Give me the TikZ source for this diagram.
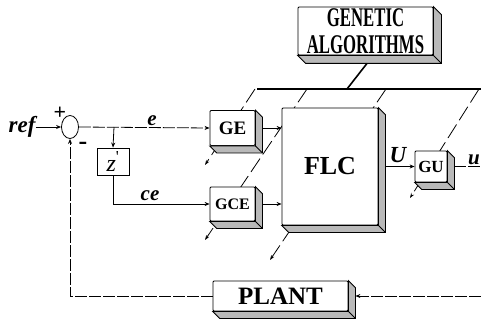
\documentclass[tikz,border=0pt]{standalone}
\usepackage{fontspec}
\setmainfont{Liberation Serif}
\usepackage{graphicx}
\usetikzlibrary{arrows.meta,shapes.geometric,calc}

\begin{document}
\begin{tikzpicture}[x=1pt, y=1pt, line width=0.8pt,
    >={Stealth[length=5pt,width=4pt]},
    every node/.style={inner sep=0pt},
    gainbox/.style={draw, fill=white, rounded corners=1pt, font=\bfseries\fontsize{19}{19}\selectfont},
    sig/.style={font=\bfseries\itshape\fontsize{21}{21}\selectfont},
    scanline/.style={dash pattern=on 12pt off 2pt},
    tune/.style={dash pattern=on 16pt off 5pt, -{Stealth[length=5pt,width=3.5pt]}}]

\useasboundingbox (0,0) rectangle (481,327);

% GA bus and tuning lines (boxes are drawn over them)
\coordinate (bus1) at (257,238);
\coordinate (bus2) at (481,238);
\coordinate (gabus) at (347,238);
\coordinate (t1) at (255,238); \coordinate (a1) at (205,162);
\coordinate (t2) at (307,238); \coordinate (a2) at (205,87);
\coordinate (t3) at (386,238); \coordinate (a3) at (270,67);
\coordinate (t4) at (479,238); \coordinate (a4) at (410,129);
\draw[line width=1.6pt] (bus1) -- (bus2);
\foreach \st/\en in {t1/a1,t2/a2,t3/a3,t4/a4}
    \draw[tune] (\st) -- (\en);

% Blocks
\node[sig, font=\bfseries\itshape\fontsize{23}{23}\selectfont] (ref) at (22,200) {ref};
\node[draw, ellipse, minimum width=17pt, minimum height=23pt] (sum) at (70,200) {};
\node[draw, minimum width=32pt, minimum height=27pt, font=\fontsize{24}{24}\selectfont] (zd) at (113,165.5) {\textit{z}\textsuperscript{\textquotesingle}};
\node[gainbox, minimum width=45pt, minimum height=35pt] (ge) at (232.5,199) {GE};
\node[gainbox, minimum width=45pt, minimum height=34pt, font=\bfseries\fontsize{16}{16}\selectfont] (gce) at (232.5,123) {GCE};
\node[gainbox, minimum width=96pt, minimum height=117pt, font=\bfseries\fontsize{26}{26}\selectfont] (flc) at (330,160.5) {FLC};
\node[gainbox, minimum width=32pt, minimum height=31pt, font=\bfseries\fontsize{17}{17}\selectfont] (gu) at (431,160.5) {GU};
\node[gainbox, minimum width=135pt, minimum height=30pt, font=\bfseries\fontsize{25}{25}\selectfont] (plant) at (280.5,31) {PLANT};
\node[gainbox, minimum width=135pt, minimum height=48pt, align=center, font=\bfseries\fontsize{27}{27}\selectfont] (ga) at (365.5,296)
    {\scalebox{0.62}[1]{GENETIC}\\\scalebox{0.62}[1]{ALGORITHMS}};

% 3D sides of the boxes
\foreach \b/\d in {ge/7,gce/7,flc/7,gu/7,plant/7,ga/8} {
    \filldraw[fill=gray!55] (\b.north east) -- ++(\d,-\d) -- ($(\b.south east)+(\d,-\d)$)
        -- ($(\b.south west)+(\d,-\d)$) -- (\b.south west) -- (\b.south east) -- cycle;
    \draw (\b.south east) -- ++(\d,-\d);
}

% GA link to bus
\draw[line width=1.6pt] ($(ga.south)+(1.5,-8)$) -- (gabus);

% Signals
\coordinate (br) at (114,200);
\draw[->] (ref.east) -- (sum.west);
\draw[scanline, ->] (sum.east) -- (ge.west);
\draw[->] (br) -- (zd.north);
\draw[->] (zd.south) |- (gce.west);
\draw[->] ($(ge.east)+(7,0)$) -- (ge.east -| flc.west);
\draw[->] ($(gce.east)+(7,0)$) -- (gce.east -| flc.west);
\draw[->] ($(flc.east)+(7,0)$) -- (gu.west);
\coordinate (uout) at (481,160.5);
\draw[scanline] ($(gu.east)+(7,0)$) -- (uout);
\coordinate (pin) at (481,31);
\draw[scanline, ->] (pin) -- ($(plant.east)+(7,0)$);
\draw[scanline, ->] (plant.west) -| (sum.south);

% Labels
\node[font=\bfseries\fontsize{22}{22}\selectfont] (plus) at (60,214) {+};
\node[font=\bfseries\fontsize{26}{26}\selectfont] (minus) at (83,181) {-};
\node[sig, anchor=south] (elab) at (152,201) {e};
\node[sig, anchor=south] (celab) at (150,126) {ce};
\node[sig, font=\bfseries\itshape\fontsize{23}{23}\selectfont] (ulab) at (398,172) {U};
\node[sig] (uoutlab) at (474,167) {u};

\end{tikzpicture}
\end{document}
